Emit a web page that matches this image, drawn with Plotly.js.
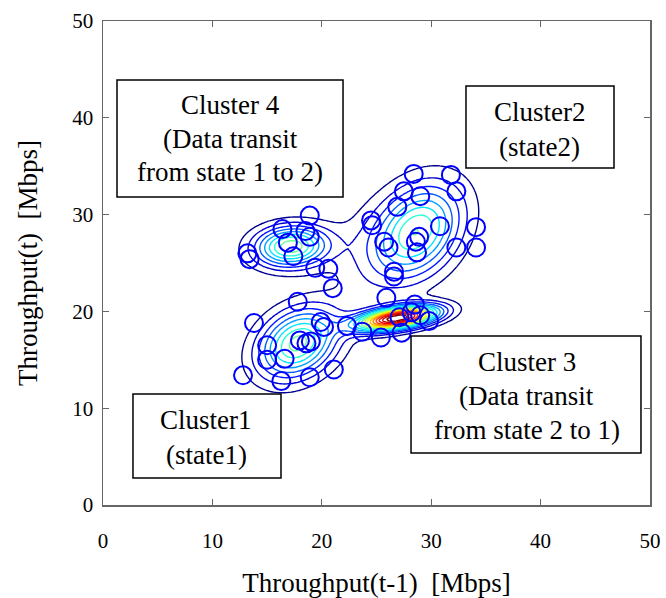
<!DOCTYPE html>
<html><head><meta charset="utf-8">
<script src="https://cdn.plot.ly/plotly-3.0.1.min.js"></script>
<style>body{margin:0;background:#fff}</style>
</head><body>
<div id="chart" style="width:666px;height:598px"></div>
<script>
// Observed samples: Throughput(t-1) vs Throughput(t)
const pointsX = [
  18.9, 16.4, 18.5, 18.9, 16.9, 17.4, 13.2, 13.4, 19.4, 20.6, 21.0,
  28.4, 31.8, 27.5, 29.0, 32.3, 26.9, 24.5, 24.6, 30.8, 34.1, 28.9, 28.6, 25.7, 26.1, 28.7, 32.3, 34.1, 26.6, 26.6,
  17.8, 13.8, 19.9, 20.2, 22.3, 18.0, 18.6, 19.0, 15.0, 15.0, 16.6, 12.8, 16.3, 18.9, 21.1,
  25.9, 28.5, 27.1, 29.0, 29.8, 23.7, 25.4, 27.3, 28.2
];
const pointsY = [
  29.9, 28.5, 28.3, 27.7, 27.1, 25.7, 26.0, 25.4, 24.5, 24.4, 22.4,
  34.2, 34.1, 32.4, 31.9, 32.4, 30.8, 29.4, 28.9, 28.8, 28.7, 27.7, 27.2, 27.2, 26.6, 26.1, 26.6, 26.6, 24.1, 23.6,
  21.0, 18.8, 18.9, 18.4, 18.5, 17.0, 16.7, 16.9, 16.5, 15.0, 15.1, 13.4, 12.8, 13.2, 14.0,
  21.4, 20.7, 19.4, 19.6, 19.0, 17.9, 17.3, 17.8, 19.9
];

// Density model components: Cluster1, Cluster2, Cluster3 (two parts), Cluster4, broad link
const compMeanX   = [17.8, 28.6, 25.75, 28.05, 17.2, 23.2];
const compMeanY   = [16.7, 28.2, 19.1, 19.5, 26.7, 25.2];
const compSigMaj  = [2.8, 3.6, 2.2, 2.2, 2.3, 4.2];
const compSigMin  = [2.1, 2.5, 0.74, 0.74, 1.45, 2.2];
const compAngle   = [45, 60, 10, 10, 5, 90];
const compWeight  = [18.5, 27.0, 5.9, 5.9, 10.9, 2.6];

const xTicks = [0, 10, 20, 30, 40, 50];
const yTicks = [0, 10, 20, 30, 40, 50];

// evaluate the density on a grid
const gx = [], gy = [];
for (let v = 4; v <= 46.0001; v += 0.2) { gx.push(+v.toFixed(2)); gy.push(+v.toFixed(2)); }
const z = [];
let zmax = 0;
for (let j = 0; j < gy.length; j++) {
  const row = [];
  for (let i = 0; i < gx.length; i++) {
    let s = 0;
    for (let k = 0; k < compWeight.length; k++) {
      const th = compAngle[k] * Math.PI / 180;
      const dx = gx[i] - compMeanX[k], dy = gy[j] - compMeanY[k];
      const u = (dx * Math.cos(th) + dy * Math.sin(th)) / compSigMaj[k];
      const w = (-dx * Math.sin(th) + dy * Math.cos(th)) / compSigMin[k];
      s += compWeight[k] / (2 * Math.PI * compSigMaj[k] * compSigMin[k]) * Math.exp(-(u * u + w * w) / 2);
    }
    row.push(s);
    if (s > zmax) zmax = s;
  }
  z.push(row);
}
const nLevels = 17;
const jet = [[0,'rgb(0,0,143)'],[0.11,'rgb(0,0,255)'],[0.36,'rgb(0,255,255)'],[0.61,'rgb(255,255,0)'],[0.86,'rgb(255,0,0)'],[1,'rgb(128,0,0)']];

const contour = {
  type: 'contour', x: gx, y: gy, z: z, zmin: 0, zmax: zmax,
  autocontour: false,
  contours: { coloring: 'lines', start: zmax / nLevels, end: zmax * (nLevels - 0.5) / nLevels, size: zmax / nLevels },
  colorscale: jet, showscale: false, line: { width: 1.4, smoothing: 1 }, hoverinfo: 'skip'
};
const pts = {
  type: 'scatter', mode: 'markers', x: pointsX, y: pointsY,
  marker: { symbol: 'circle-open', size: 18, color: 'rgb(0,0,255)', line: { width: 2 } },
  hoverinfo: 'x+y'
};

const serif = 'Liberation Serif, Times New Roman, serif';
const boxes = [
  [0.0256, 0.4388, 0.6364, 0.8781],
  [0.6636, 0.9342, 0.6963, 0.8657],
  [0.0548, 0.3254, 0.0558, 0.2293],
  [0.5631, 0.9835, 0.1074, 0.3492]
];
const labelLines = [
  ['Cluster 4', 0.2322, 0.8264], ['(Data transit', 0.2322, 0.7562], ['from state 1 to 2)', 0.2322, 0.6880],
  ['Cluster2', 0.7989, 0.8120], ['(state2)', 0.7989, 0.7397],
  ['Cluster1', 0.1883, 0.1756], ['(state1)', 0.1883, 0.1033],
  ['Cluster 3', 0.7751, 0.2955], ['(Data transit', 0.7751, 0.2252], ['from state 2 to 1)', 0.7751, 0.1550]
];

const layout = {
  width: 666, height: 598,
  margin: { l: 103, r: 16, t: 21, b: 93 },
  paper_bgcolor: '#fff', plot_bgcolor: '#fff',
  showlegend: false,
  font: { family: serif, color: '#000' },
  xaxis: {
    range: [0, 50], tickvals: xTicks, ticks: 'inside', ticklen: 6, tickcolor: '#666', tickwidth: 1.2,
    showline: true, linecolor: '#666', linewidth: 1.5, mirror: 'ticks', showgrid: false, zeroline: false,
    tickfont: { family: serif, size: 21, color: '#000' }, ticklabelstandoff: 16,
    title: { text: 'Throughput(t-1)\u00a0 [Mbps]', font: { family: serif, size: 27, color: '#000' }, standoff: 25 }
  },
  yaxis: {
    range: [0, 50], tickvals: yTicks, ticks: 'inside', ticklen: 6, tickcolor: '#666', tickwidth: 1.2,
    showline: true, linecolor: '#666', linewidth: 1.5, mirror: 'ticks', showgrid: false, zeroline: false,
    tickfont: { family: serif, size: 21, color: '#000' }, ticklabelstandoff: 4,
    title: { text: 'Throughput(t)\u00a0 [Mbps]', font: { family: serif, size: 27, color: '#000' }, standoff: 27 }
  },
  shapes: boxes.map(b => ({ type: 'rect', xref: 'paper', yref: 'paper', x0: b[0], x1: b[1], y0: b[2], y1: b[3],
    line: { color: '#000', width: 1.5 }, fillcolor: '#fff', layer: 'above' })),
  annotations: labelLines.map(l => ({ text: l[0], xref: 'paper', yref: 'paper', x: l[1], y: l[2],
    xanchor: 'center', yanchor: 'middle', showarrow: false, font: { family: serif, size: 27, color: '#000' } }))
};

Plotly.newPlot('chart', [contour, pts], layout, { displayModeBar: false, staticPlot: true });
</script>
</body></html>
